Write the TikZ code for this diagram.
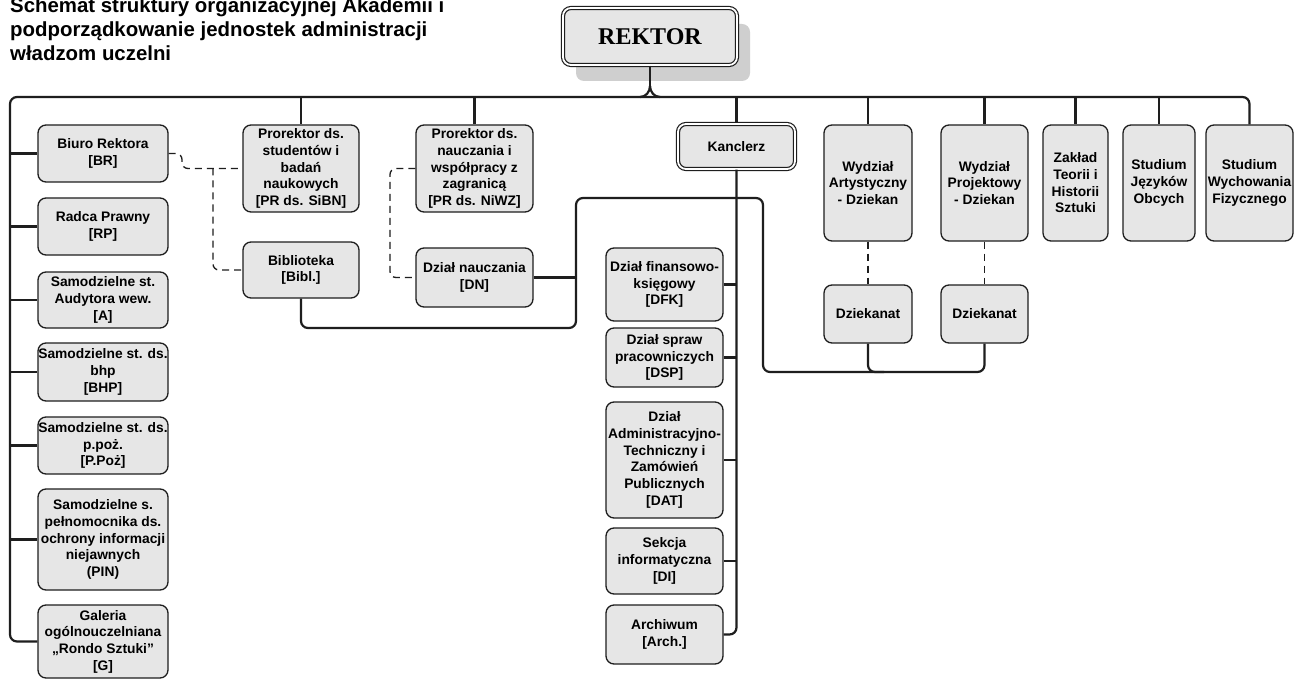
\documentclass[tikz,border=0pt]{standalone}
\usepackage{fontspec}
\setmainfont{Liberation Sans}
\newfontfamily\rekfont{Liberation Serif}
\usetikzlibrary{shadows}
\definecolor{boxfill}{HTML}{E6E6E6}
\definecolor{boxline}{HTML}{1E1E1E}
\definecolor{shade}{HTML}{CFCFCF}
\tikzset{
 unit/.style={draw=boxline, fill=boxfill, line width=1.3pt, rounded corners=8pt, align=center,
   font=\fontsize{13.8}{16.7}\selectfont\bfseries, inner sep=0pt},
 conn/.style={draw=boxline, line width=2.2pt, rounded corners=7pt},
 dconn/.style={draw=boxline, line width=1.3pt, dash pattern=on 7pt off 5pt, rounded corners=6pt},
 dbl/.style={double=white, double distance=1.8pt, line width=1.2pt},
 ttl/.style={anchor=base west, inner sep=0pt, font=\fontsize{20.4}{23.5}\selectfont\bfseries},
}
\begin{document}
\begin{tikzpicture}[x=1pt,y=-1pt]
\clip (0,0) rectangle (1303,679);
\fill[white] (0,0) rectangle (1303,679);

% title
\node[ttl] (t1) at (10,13) {Schemat struktury organizacyjnej Akademii i};
\node[ttl] (t2) at (10,37) {podporządkowanie jednostek administracji};
\node[ttl] (t3) at (10,60.5) {władzom uczelni};

% REKTOR
\node[unit, dbl, font=\rekfont\fontsize{24}{28}\selectfont\bfseries, minimum width=174pt, minimum height=57pt,
  drop shadow={shadow xshift=13pt, shadow yshift=-16pt, fill=shade, opacity=1}] (R) at (650,36.5) {REKTOR};

% left column
\node[unit, minimum width=130pt, minimum height=57pt] (BR) at (103,153.5) {Biuro Rektora\\{}[BR]};
\node[unit, minimum width=130pt, minimum height=57pt] (RP) at (103,226.5) {Radca Prawny\\{}[RP]};
\node[unit, minimum width=130pt, minimum height=56pt] (A) at (103,300) {Samodzielne st.\\Audytora wew.\\{}[A]};
\node[unit, minimum width=130pt, minimum height=58pt] (BHP) at (103,372) {Samodzielne st. ds.\\bhp\\{}[BHP]};
\node[unit, minimum width=130pt, minimum height=57pt] (PPOZ) at (103,445.5) {Samodzielne st. ds.\\p.poż.\\{}[P.Poż]};
\node[unit, minimum width=130pt, minimum height=101pt] (PIN) at (103,539.5) {Samodzielne s.\\pełnomocnika ds.\\ochrony informacji\\niejawnych\\(PIN)};
\node[unit, minimum width=130pt, minimum height=73pt] (G) at (103,641.5) {Galeria\\ogólnouczelniana\\„Rondo Sztuki”\\{}[G]};

% prorektors
\node[unit, minimum width=116pt, minimum height=87pt] (SiBN) at (301,168.5) {Prorektor ds.\\studentów i\\badań\\naukowych\\{}[PR ds. SiBN]};
\node[unit, minimum width=116pt, minimum height=56pt] (Bibl) at (301,270) {Biblioteka\\{}[Bibl.]};
\node[unit, minimum width=117pt, minimum height=87pt] (NiWZ) at (474.5,168.5) {Prorektor ds.\\nauczania i\\współpracy z\\zagranicą\\{}[PR ds. NiWZ]};
\node[unit, minimum width=117pt, minimum height=59pt] (DN) at (474.5,277.5) {Dział nauczania\\{}[DN]};

% kanclerz
\node[unit, dbl, minimum width=117pt, minimum height=45pt] (Kan) at (736.5,146.5) {Kanclerz};
\node[unit, minimum width=117pt, minimum height=73pt] (DFK) at (664.5,284.5) {Dział finansowo-\\księgowy\\{}[DFK]};
\node[unit, minimum width=117pt, minimum height=59pt] (DSP) at (664.5,357.5) {Dział spraw\\pracowniczych\\{}[DSP]};
\node[unit, minimum width=117pt, minimum height=116pt] (DAT) at (664.5,460) {Dział\\Administracyjno-\\Techniczny i\\Zamówień\\Publicznych\\{}[DAT]};
\node[unit, minimum width=117pt, minimum height=66pt] (DI) at (664.5,561) {Sekcja\\informatyczna\\{}[DI]};
\node[unit, minimum width=117pt, minimum height=59pt] (Arch) at (664.5,634.5) {Archiwum\\{}[Arch.]};

% right units
\node[unit, minimum width=88pt, minimum height=116pt] (WA) at (868,183) {Wydział\\Artystyczny\\- Dziekan};
\node[unit, minimum width=87pt, minimum height=116pt] (WP) at (984.5,183) {Wydział\\Projektowy\\- Dziekan};
\node[unit, minimum width=65pt, minimum height=116pt] (ZTH) at (1075.5,183) {Zakład\\Teorii i\\Historii\\Sztuki};
\node[unit, minimum width=72pt, minimum height=116pt] (SJO) at (1159,183) {Studium\\Języków\\Obcych};
\node[unit, minimum width=87pt, minimum height=116pt] (SWF) at (1249.5,183) {Studium\\Wychowania\\Fizycznego};
\node[unit, minimum width=88pt, minimum height=58pt] (Dz1) at (868,314) {Dziekanat};
\node[unit, minimum width=87pt, minimum height=58pt] (Dz2) at (984.5,314) {Dziekanat};

% coordinates
\coordinate (busL) at (10,97);
\coordinate (brace) at (650,86);
\coordinate (bl) at (640,97);
\coordinate (brr) at (660,97);
\coordinate (c1) at (576,328);
\coordinate (c2) at (576,198);
\coordinate (c3) at (763,198);
\coordinate (c4) at (763,372);
\coordinate (c5) at (884,372);
\coordinate (d1) at (182,0);
\coordinate (d2) at (213,0);
\coordinate (d3) at (390,0);

% top bus
\draw[conn] (G.west) -- (G.west -| busL) -- (busL) -- (SWF.north |- busL) -- (SWF.north);
\draw[conn, rounded corners=0] (R.south) -- (brace);
\draw[line width=2.2pt, draw=boxline] (brace) to[out=-90,in=0] (bl);
\draw[line width=2.2pt, draw=boxline] (brace) to[out=-90,in=180] (brr);
\foreach \n in {BR,RP,A,BHP,PPOZ,PIN} \draw[conn] (\n.west -| busL) -- (\n.west);
\foreach \n in {SiBN,NiWZ,Kan,WA,WP,ZTH,SJO} \draw[conn] (\n.north |- busL) -- (\n.north);

% kanclerz bus
\draw[conn] (Kan.south) -- (Kan.south |- Arch.east) -- (Arch.east);
\foreach \n in {DFK,DSP,DAT,DI} \draw[conn] (\n.east) -- (\n.east -| Kan.south);

% library / teaching / dean offices
\draw[conn] (Bibl.south) -- (Bibl.south |- c1) -- (c1) -- (c2) -- (c3) -- (c4) -- (Dz2.south |- c4) -- (Dz2.south);
\draw[conn] (Dz1.south) -- (Dz1.south |- c4) -- (c5);
\draw[conn] (DN.east) -- (DN.east -| c1);

% dashed
\draw[dconn] (BR.east) -- (BR.east -| d1) -- (d1 |- SiBN.west) -- (SiBN.west);
\draw[dconn] (SiBN.west -| d2) -- (d2 |- Bibl.west) -- (Bibl.west);
\draw[dconn] (NiWZ.west) -- (NiWZ.west -| d3) -- (d3 |- DN.west) -- (DN.west);
\draw[dconn, rounded corners=0] (WA.south) -- (Dz1.north);
\draw[dconn, rounded corners=0] (WP.south) -- (Dz2.north);
\end{tikzpicture}
\end{document}
